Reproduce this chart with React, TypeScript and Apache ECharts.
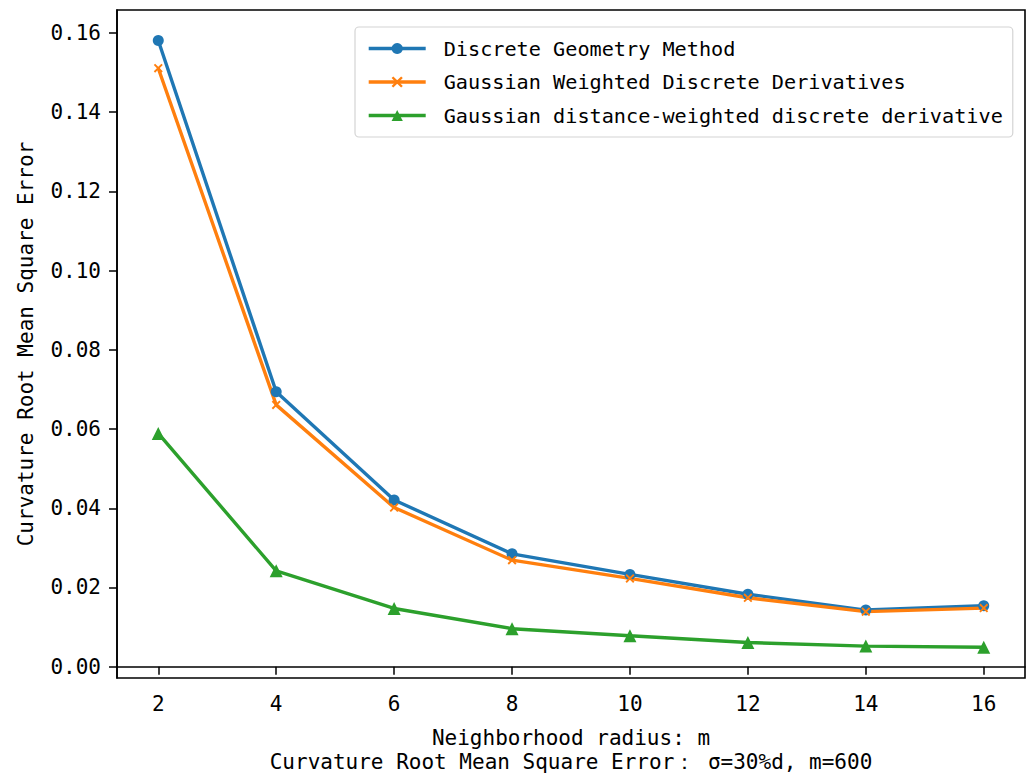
import React, { useEffect, useRef } from "react";
import * as echarts from "echarts";

// Neighborhood radius m
const radius = [2, 4, 6, 8, 10, 12, 14, 16];

// Curvature RMSE per method
const discreteGeometry = [0.1581, 0.0694, 0.0421, 0.0285, 0.0233, 0.0183, 0.0143, 0.0154];
const gaussianWeighted = [0.1511, 0.0661, 0.0402, 0.0269, 0.0223, 0.0174, 0.0139, 0.0148];
const gaussianDistance = [0.0589, 0.0242, 0.0147, 0.0096, 0.0078, 0.0061, 0.0052, 0.0049];

const seriesNames = [
  "Discrete Geometry Method",
  "Gaussian Weighted Discrete Derivatives",
  "Gaussian distance-weighted discrete derivative",
];

const xTicks = [2, 4, 6, 8, 10, 12, 14, 16];
const yTicks = [0, 0.02, 0.04, 0.06, 0.08, 0.1, 0.12, 0.14, 0.16];

const xLabel = "Neighborhood radius: m";
const subtitle = "Curvature Root Mean Square Error： σ=30%d, m=600";
const yLabel = "Curvature Root Mean Square Error";

const FONT = "DejaVu Sans Mono";
const COLORS = ["#1f77b4", "#ff7f0e", "#2ca02c"];
const LINE_W = 3.4;

// stroked "x" marker drawn as a filled outline
const X_MARK =
  "path://M0,1.5 L1.5,0 L5,3.5 L8.5,0 L10,1.5 L6.5,5 L10,8.5 L8.5,10 L5,6.5 L1.5,10 L0,8.5 L3.5,5 Z";

const pairs = (ys: number[]) => radius.map((x, i) => [x, ys[i]]);

export default function App() {
  const ref = useRef<HTMLDivElement>(null);

  useEffect(() => {
    if (!ref.current) return;
    const chart = echarts.init(ref.current, undefined, { renderer: "svg" });

    const lineSeries = (name: string, data: number[], color: string, symbol: string, size: number) => ({
      name,
      type: "line",
      data: pairs(data),
      symbol,
      symbolSize: size,
      showSymbol: true,
      lineStyle: { color, width: LINE_W },
      itemStyle: { color },
      emphasis: { disabled: true },
    });

    chart.setOption({
      animation: false,
      backgroundColor: "#ffffff",
      textStyle: { fontFamily: FONT },
      grid: {
        left: 117,
        right: 2,
        top: 10,
        bottom: 102,
        show: true,
        borderColor: "#000",
        borderWidth: 1.6,
        backgroundColor: "transparent",
      },
      legend: {
        orient: "vertical",
        left: 355,
        top: 27,
        padding: [9, 10, 9, 12],
        itemGap: 8.5,
        itemWidth: 57,
        itemHeight: 14,
        borderColor: "#d4d4d4",
        borderWidth: 1.2,
        borderRadius: 4,
        backgroundColor: "rgba(255,255,255,0.8)",
        lineStyle: { width: LINE_W },
        textStyle: {
          fontFamily: FONT,
          fontSize: 20.2,
          color: "#000",
          lineHeight: 25,
          padding: [0, 0, 0, 13],
        },
        data: seriesNames,
      },
      xAxis: {
        type: "value",
        min: 1.3,
        max: 16.7,
        name: xLabel + "\n" + subtitle,
        nameLocation: "middle",
        nameGap: 48,
        nameTextStyle: { fontFamily: FONT, fontSize: 21, color: "#000", lineHeight: 24 },
        axisLine: { show: true, lineStyle: { color: "#000", width: 1.6 } },
        axisTick: {
          show: true,
          length: 8,
          customValues: xTicks,
          lineStyle: { color: "#000", width: 1.5 },
        },
        axisLabel: {
          customValues: xTicks,
          margin: 15,
          fontFamily: FONT,
          fontSize: 21,
          color: "#000",
        },
        splitLine: { show: false },
      },
      yAxis: {
        type: "value",
        min: -0.00285,
        max: 0.1658,
        name: yLabel,
        nameLocation: "middle",
        nameGap: 81,
        nameTextStyle: { fontFamily: FONT, fontSize: 21, color: "#000" },
        axisLine: { show: true, lineStyle: { color: "#000", width: 1.6 } },
        axisTick: {
          show: true,
          length: 8,
          customValues: yTicks,
          lineStyle: { color: "#000", width: 1.5 },
        },
        axisLabel: {
          customValues: yTicks,
          margin: 16,
          fontFamily: FONT,
          fontSize: 21,
          color: "#000",
          formatter: (v: number) => v.toFixed(2),
        },
        splitLine: { show: false },
      },
      series: [
        lineSeries(seriesNames[0], discreteGeometry, COLORS[0], "circle", 11),
        lineSeries(seriesNames[1], gaussianWeighted, COLORS[1], X_MARK, 9),
        lineSeries(seriesNames[2], gaussianDistance, COLORS[2], "triangle", 13),
      ],
    });

    return () => chart.dispose();
  }, []);

  return (
    <div
      ref={ref}
      style={{ position: "fixed", left: 0, top: 0, width: 1027, height: 780, background: "#fff" }}
    />
  );
}
